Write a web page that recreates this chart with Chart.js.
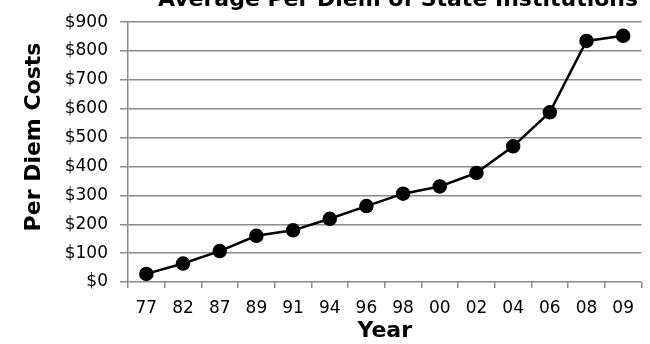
<!DOCTYPE html>
<html>
<head>
<meta charset="utf-8">
<script src="https://cdn.jsdelivr.net/npm/chart.js@4/dist/chart.umd.min.js"></script>
<style>
  html, body { margin: 0; padding: 0; background: #ffffff; }
  #wrap { width: 650px; height: 344px; }
</style>
</head>
<body>
<div id="wrap"><canvas id="chart" width="650" height="344"></canvas></div>
<script>
// ─── data ───
const years = ['77', '82', '87', '89', '91', '94', '96', '98', '00', '02', '04', '06', '08', '09'];
const perDiem = [28, 64, 107, 160, 179, 219, 263, 306, 331, 378, 470, 588, 835, 853];
const yTicks = [0, 100, 200, 300, 400, 500, 600, 700, 800, 900];

const TITLE = 'Average Per Diem of State Institutions';
const Y_TITLE = 'Per Diem Costs';
const FONT = "'DejaVu Sans', 'Liberation Sans', Arial, sans-serif";
const GRID = '#8a8a8a';

// chart title is cut by the top edge in the source, and the y title sits
// a little above the plot centre, so both are drawn here
const extraTitles = {
  id: 'extraTitles',
  afterDraw(chart) {
    const ctx = chart.ctx;
    ctx.save();
    ctx.fillStyle = '#000';
    ctx.font = 'bold 22px ' + FONT;
    ctx.textAlign = 'center';
    ctx.textBaseline = 'alphabetic';
    ctx.fillText(TITLE, 398, 5.5);

    ctx.translate(34, 137);
    ctx.rotate(-Math.PI / 2);
    ctx.textBaseline = 'middle';
    ctx.fillText(Y_TITLE, 0, 0);
    ctx.restore();
  },
};

new Chart(document.getElementById('chart'), {
  type: 'line',
  data: {
    labels: years,
    datasets: [{
      label: 'Per Diem',
      data: perDiem,
      borderColor: '#000',
      backgroundColor: '#000',
      borderWidth: 2.5,
      pointRadius: 6,
      pointHoverRadius: 6,
      pointBackgroundColor: '#000',
      pointBorderColor: '#000',
      tension: 0,
    }],
  },
  options: {
    responsive: false,
    animation: false,
    layout: { padding: { top: 15, right: 0, bottom: 0, left: 0 } },
    plugins: {
      legend: { display: false },
      title: { display: false },
      tooltip: { enabled: false },
    },
    scales: {
      x: {
        offset: true,
        afterFit(scale) { scale.height = 62; },
        grid: { display: true, offset: true, drawOnChartArea: false, drawTicks: true, tickLength: 6, color: GRID, lineWidth: 1.5 },
        border: { display: false },
        ticks: { color: '#000', font: { family: FONT, size: 17 }, padding: 10, maxRotation: 0, autoSkip: false },
        title: { display: true, text: 'Year', color: '#000', font: { family: FONT, size: 22, weight: 'bold' }, padding: { top: 0, bottom: 0 } },
      },
      y: {
        min: yTicks[0],
        max: yTicks[yTicks.length - 1],
        afterFit(scale) { scale.width = 128; },
        afterBuildTicks(scale) { scale.ticks = yTicks.map((v) => ({ value: v })); },
        grid: { color: GRID, lineWidth: 1.5, tickLength: 8 },
        border: { display: true, color: GRID, width: 1.5 },
        ticks: { color: '#000', font: { family: FONT, size: 17 }, padding: 12, callback: (v) => '$' + v },
        title: { display: false },
      },
    },
  },
  plugins: [extraTitles],
});
</script>
</body>
</html>
